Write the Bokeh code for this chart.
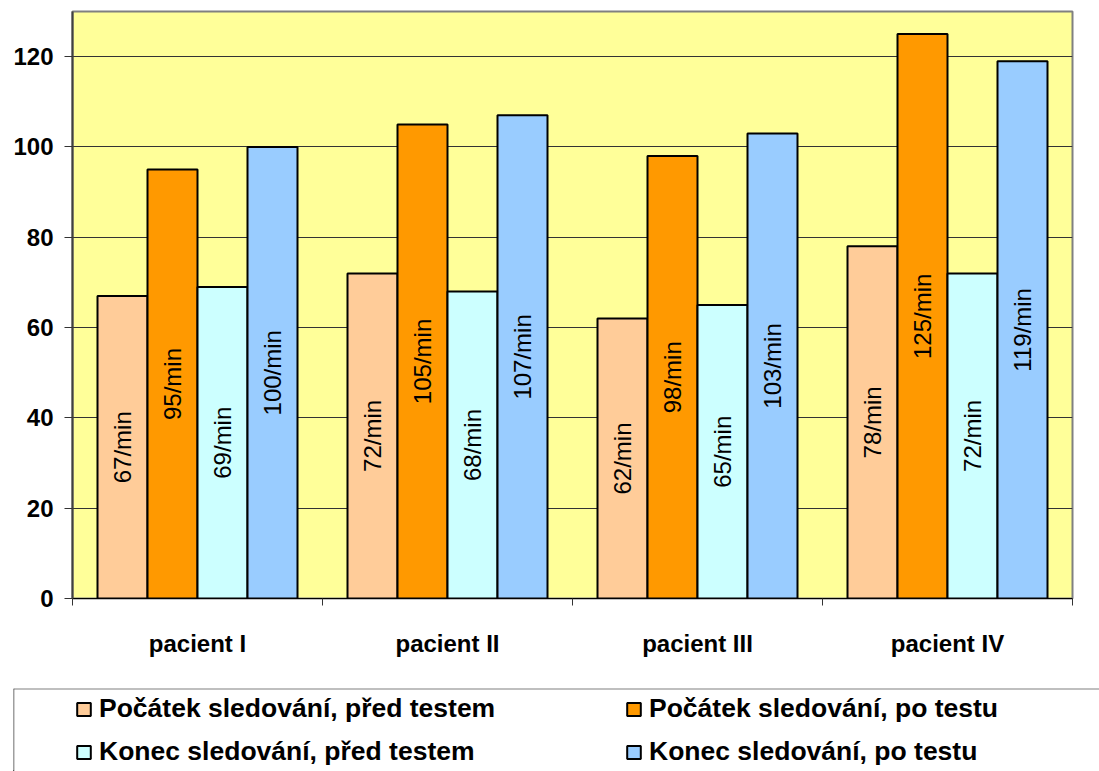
import numpy as np
from bokeh.plotting import figure
from bokeh.models import (ColumnDataSource, Range1d, FixedTicker, Legend,
                          LegendItem, Span)
from bokeh.transform import dodge
from bokeh.layouts import column
from bokeh.core.properties import value
from bokeh.embed import file_html
from bokeh.resources import INLINE

# --- data -------------------------------------------------------------
patients = ["pacient I", "pacient II", "pacient III", "pacient IV"]
series_names = [
    "Počátek sledování, před testem",
    "Počátek sledování, po testu",
    "Konec sledování, před testem",
    "Konec sledování, po testu",
]
start_before = [67, 72, 62, 78]
start_after = [95, 105, 98, 125]
end_before = [69, 68, 65, 72]
end_after = [100, 107, 103, 119]
y_ticks = [0, 20, 40, 60, 80, 100, 120]

series_values = [start_before, start_after, end_before, end_after]
colors = ["#FFCC99", "#FF9900", "#CCFFFF", "#99CCFF"]
offsets = [-0.3, -0.1, 0.1, 0.3]
FONT_NAME = "Liberation Sans"
FONT = value(FONT_NAME)

# --- main chart -------------------------------------------------------
p = figure(width=1099, height=686,
           x_range=Range1d(0, len(patients)), y_range=Range1d(0, 130),
           output_backend="svg", toolbar_location=None,
           min_border_left=72, min_border_right=27,
           min_border_top=11, min_border_bottom=88,
           background_fill_color="#FFFF99", border_fill_color="white",
           frame_align=False)
p.outline_line_color = "#808080"
p.outline_line_width = 2

xs = np.arange(len(patients)) + 0.5
for vals, col, off in zip(series_values, colors, offsets):
    src = ColumnDataSource(dict(
        x=xs, top=vals, mid=[v / 2 for v in vals],
        label=[f"{v}/min" for v in vals]))
    p.vbar(x=dodge("x", off), top="top", width=0.2, source=src,
           fill_color=col, line_color="black", line_width=2)
    p.text(x=dodge("x", off), y="mid", text="label", source=src,
           angle=np.pi / 2, text_align="center", text_baseline="middle",
           text_font=FONT, text_font_size="24px", text_color="black")

# y axis
p.yaxis.ticker = FixedTicker(ticks=y_ticks)
p.yaxis.minor_tick_line_color = None
p.yaxis.major_tick_out = 8
p.yaxis.major_tick_in = 0
p.yaxis.major_tick_line_color = "#333333"
p.yaxis.axis_line_color = "#404040"
p.yaxis.axis_line_width = 2
p.yaxis.major_label_standoff = 11
p.yaxis.major_label_text_font = FONT_NAME
p.yaxis.major_label_text_font_size = "24px"
p.yaxis.major_label_text_font_style = "bold"
p.yaxis.major_label_text_color = "black"

# x axis: labels at group centres, ticks at group boundaries
p.xaxis.ticker = FixedTicker(ticks=list(xs),
                             minor_ticks=list(range(len(patients) + 1)))
p.xaxis.major_label_overrides = {float(x): name for x, name in zip(xs, patients)}
p.xaxis.major_tick_out = 0
p.xaxis.major_tick_in = 0
p.xaxis.minor_tick_out = 7
p.xaxis.minor_tick_in = 0
p.xaxis.minor_tick_line_color = "#333333"
p.xaxis.axis_line_color = "black"
p.xaxis.axis_line_width = 1
p.xaxis.major_label_standoff = 24
p.xaxis.major_label_text_font = FONT_NAME
p.xaxis.major_label_text_font_size = "24px"
p.xaxis.major_label_text_font_style = "bold"
p.xaxis.major_label_text_color = "black"

p.xgrid.grid_line_color = None
p.ygrid.ticker = FixedTicker(ticks=y_ticks[1:])
p.ygrid.grid_line_color = "#333333"
p.ygrid.grid_line_width = 1

# --- legend box -------------------------------------------------------
lf = figure(width=1087, height=85, x_range=Range1d(0, 1), y_range=Range1d(0, 1),
            output_backend="svg", toolbar_location=None,
            x_axis_location=None, y_axis_location=None,
            min_border_left=1, min_border_top=2,
            min_border_right=0, min_border_bottom=0,
            outline_line_color=None, margin=(0, 0, 0, 12),
            frame_align=False)
lf.grid.visible = False
lf.add_layout(Span(location=1, dimension="width",
                   line_color="#808080", line_width=2))
lf.add_layout(Span(location=0, dimension="height",
                   line_color="#404040", line_width=1.5))

# legend swatch proxies: one point each, parked outside the visible range
swatches = [lf.vbar(x=[-1], top=[-1], bottom=[-2], width=0.1, fill_color=c,
                    line_color="black", line_width=2) for c in colors]


def make_legend(idx, loc):
    leg = Legend(items=[LegendItem(label=series_names[i], renderers=[swatches[i]])
                        for i in idx],
                 location=loc, orientation="vertical",
                 border_line_color=None, background_fill_alpha=0,
                 padding=0, margin=0, spacing=12,
                 glyph_width=17, glyph_height=16, label_standoff=7,
                 label_text_font=FONT_NAME, label_text_font_size="26.5px",
                 label_text_font_style="bold", label_text_color="black")
    lf.add_layout(leg, "center")


make_legend([0, 2], (62, 4))
make_legend([1, 3], (612, 4))

layout = column(p, lf, spacing=0)
open("out.html", "w").write(file_html(layout, INLINE))
